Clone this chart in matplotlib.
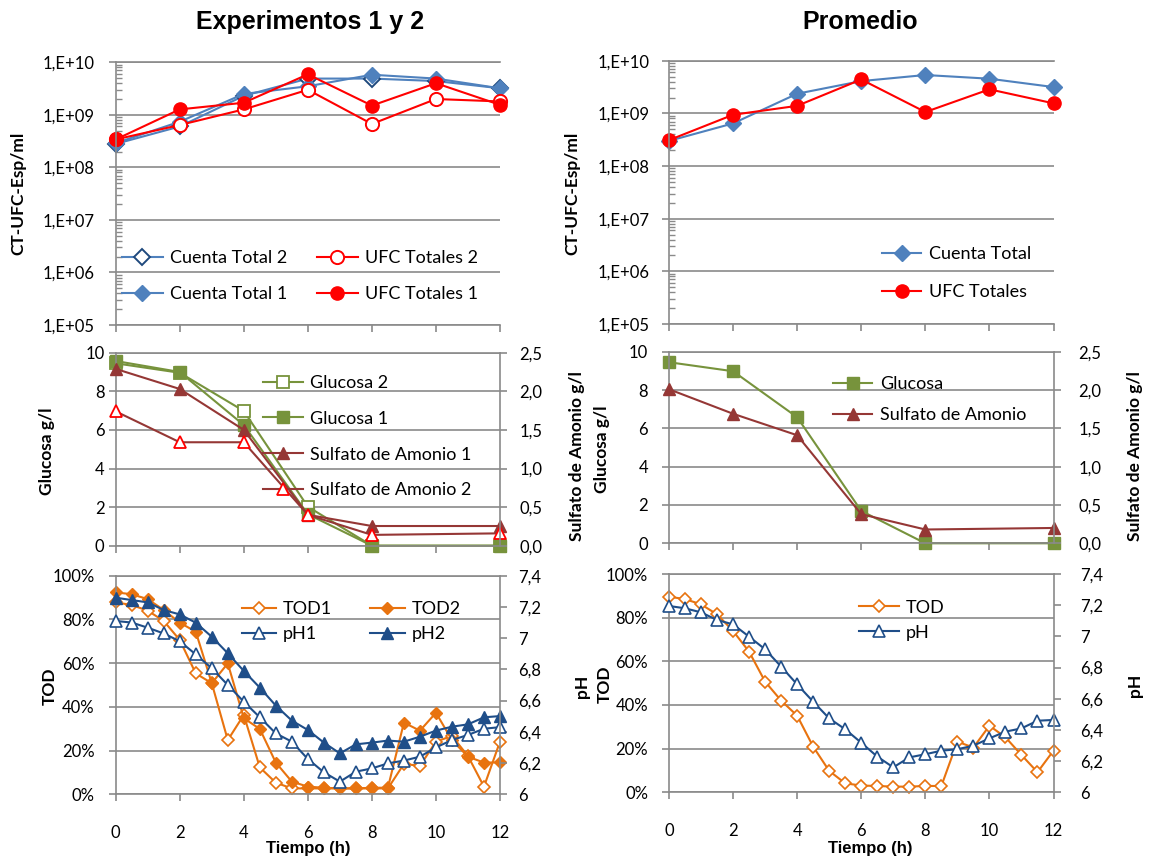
import math

import matplotlib
matplotlib.use("Agg")
import matplotlib.pyplot as plt
from matplotlib.ticker import FuncFormatter, LogLocator, NullFormatter

plt.rcParams["font.family"] = ["Lato", "DejaVu Sans"]

# Conteos celulares, cada 2 h
T_CT = [0, 2, 4, 6, 8, 10, 12]
CT1 = [2.9e8, 7.4e8, 2.5e9, 3.5e9, 5.8e9, 4.9e9, 3.2e9]
CT2 = [2.8e8, 6.0e8, 2.3e9, 4.9e9, 4.9e9, 4.4e9, 3.2e9]
UFC1 = [3.4e8, 1.27e9, 1.7e9, 5.9e9, 1.5e9, 4.0e9, 1.55e9]
UFC2 = [3.4e8, 6.4e8, 1.27e9, 3.0e9, 6.7e8, 2.0e9, 1.8e9]
CT_PROM = [3.0e8, 6.45e8, 2.36e9, 4.1e9, 5.35e9, 4.55e9, 3.16e9]
UFC_PROM = [3.1e8, 9.4e8, 1.39e9, 4.4e9, 1.06e9, 2.86e9, 1.55e9]

# Sustratos (g/l)
T_SUS = [0, 2, 4, 6, 8, 12]
GLU1 = [9.57, 9.0, 6.25, 1.63, 0.0, 0.0]
GLU2 = [9.45, 8.96, 6.98, 2.02, 0.0, 0.0]
SA1 = [2.29, 2.03, 1.50, 0.40, 0.255, 0.255]
SA2 = [1.74, 1.34, 1.34, 0.40, 0.14, 0.16]
GLU_PROM = [9.45, 8.98, 6.58, 1.69, 0.0, 0.0]
SA_PROM = [2.01, 1.69, 1.41, 0.38, 0.18, 0.20]

# TOD (%) y pH, cada 0,5 h
T_TOD = [0, 0.5, 1, 1.5, 2, 2.5, 3, 3.5, 4, 4.5, 5, 5.5, 6, 6.5, 7, 7.5, 8, 8.5,
         9, 9.5, 10, 10.5, 11, 11.5, 12]
TOD1 = [87.8, 86.6, 84.0, 79.3, 70.6, 55.3, 50.8, 24.8, 36.3, 12.3, 5.3, 2.7, 2.7,
        2.7, 2.7, 2.7, 2.7, 2.7, 13.9, 13.0, 24.1, 26.7, 17.5, 3.5, 24.1]
TOD2 = [92.4, 91.5, 89.3, 84.3, 78.5, 74.4, 50.8, 59.9, 34.8, 29.9, 14.5, 5.8, 3.5,
        3.0, 2.7, 2.7, 3.0, 3.0, 32.8, 29.1, 37.3, 24.8, 17.2, 14.5, 14.6]
PH1 = [7.11, 7.10, 7.067, 7.03, 6.98, 6.896, 6.807, 6.70, 6.593, 6.493, 6.39, 6.337,
       6.226, 6.141, 6.081, 6.145, 6.166, 6.198, 6.216, 6.241, 6.30, 6.348, 6.38, 6.42, 6.43]
PH2 = [7.259, 7.244, 7.229, 7.18, 7.152, 7.099, 7.009, 6.903, 6.79, 6.683, 6.568, 6.472,
       6.412, 6.331, 6.262, 6.32, 6.331, 6.344, 6.337, 6.369, 6.408, 6.433, 6.448, 6.493, 6.501]
TOD_PROM = [89.6, 88.5, 86.1, 81.5, 73.9, 64.4, 50.7, 42.0, 35.1, 20.9, 9.8, 4.1, 3.1,
            2.9, 2.6, 2.6, 2.9, 2.9, 23.2, 20.5, 30.5, 25.2, 17.1, 9.2, 19.1]
PH_PROM = [7.195, 7.18, 7.154, 7.105, 7.077, 6.998, 6.917, 6.806, 6.692, 6.581, 6.474,
           6.404, 6.318, 6.229, 6.16, 6.224, 6.244, 6.267, 6.276, 6.299, 6.346, 6.389,
           6.41, 6.459, 6.464]

BLUE, BLUE_D = "#4F81BD", "#1F497D"
RED = "#FF0000"
GREEN = "#77933C"
BROWN = "#953735"
ORANGE = "#E8730F"
NAVY = "#1F4E89"
GRAY = "#8A8A8A"

W, H = 1150, 863
fig = plt.figure(figsize=(W / 100, H / 100), dpi=100)


def box(x0, x1, y0, y1):
    return [x0 / W, 1 - y1 / H, (x1 - x0) / W, (y1 - y0) / H]


def style(ax, pad, xlabels=False):
    ax.set_xlim(0, 12); ax.set_xticks(range(0, 13, 2))
    ax.spines["right"].set_visible(False)
    for s in ["left", "bottom", "top"]:
        ax.spines[s].set_color(GRAY); ax.spines[s].set_linewidth(1.2)
    ax.grid(axis="y", color=GRAY, lw=1.2); ax.set_axisbelow(True)
    ax.tick_params(which="major", colors=GRAY, labelcolor="black", length=5, width=1.2, labelsize=12)
    ax.tick_params(axis="y", pad=pad)
    ax.tick_params(axis="x", labelbottom=xlabels, pad=17)
    ax.set_facecolor("none")


def twin(ax, pad):
    ax2 = ax.twinx()
    for s in ["left", "bottom", "top"]:
        ax2.spines[s].set_visible(False)
    ax2.spines["right"].set_color(GRAY); ax2.spines["right"].set_linewidth(1.2)
    ax2.tick_params(colors=GRAY, labelcolor="black", length=5, width=1.2, labelsize=12, pad=pad)
    return ax2


def line(ax, x, y, **kw):
    l, = ax.plot(x, y, lw=1.5, clip_on=False, **kw)
    return l


def legend(ax, handles, x, y, ncol=1, hl=2.3, ls=1.1, cs=1.6):
    ax.legend(handles=handles, loc="center left", bbox_to_anchor=(x / W, 1 - y / H),
              bbox_transform=fig.transFigure, frameon=False, ncol=ncol, fontsize=13,
              handlelength=hl, handletextpad=0.4, labelspacing=ls, columnspacing=cs,
              borderpad=0, borderaxespad=0)


def ylab(txt, x, y):
    fig.text(x / W, 1 - y / H, txt, rotation=90, ha="center", va="center",
             fontsize=12.5, fontweight="bold")


exp_fmt = FuncFormatter(lambda v, p: "1,E+%02d" % round(math.log10(v)))
pct_fmt = FuncFormatter(lambda v, p: f"{v:.0f}%")
ph_fmt = FuncFormatter(lambda v, p: f"{v:g}".replace(".", ","))
sa_fmt = FuncFormatter(lambda v, p: f"{v:.1f}".replace(".", ","))


def counts_axes(rect, pad):
    ax = fig.add_axes(rect)
    style(ax, pad)
    ax.set_yscale("log"); ax.set_ylim(1e5, 1e10)
    ax.set_yticks([1e5, 1e6, 1e7, 1e8, 1e9, 1e10])
    ax.yaxis.set_major_formatter(exp_fmt)
    ax.yaxis.set_minor_locator(LogLocator(subs=range(2, 10)))
    ax.yaxis.set_minor_formatter(NullFormatter())
    ax.tick_params(axis="y", which="minor", direction="in", length=4, width=1.0, colors=GRAY)
    return ax


# --- Fila 1: conteos ---
ax = counts_axes(box(115.7, 500, 62.3, 325), 10)
l_ct2 = line(ax, T_CT, CT2, color=BLUE, marker="D", ms=8, mfc="white", mec=BLUE_D, mew=1.4, label="Cuenta Total 2")
l_ct1 = line(ax, T_CT, CT1, color=BLUE, marker="D", ms=8.5, mfc=BLUE, mec=BLUE, label="Cuenta Total 1")
l_u2 = line(ax, T_CT, UFC2, color=RED, marker="o", ms=9.5, mfc="white", mec=RED, mew=1.4, label="UFC Totales 2")
l_u1 = line(ax, T_CT, UFC1, color=RED, marker="o", ms=9.5, mfc=RED, mec=RED, label="UFC Totales 1")
legend(ax, [l_ct2, l_ct1, l_u2, l_u1], 121.7, 276, ncol=2, hl=2.3, ls=1.1, cs=1.6)

ax = counts_axes(box(669, 1053.5, 60.7, 324), 9)
l_ct = line(ax, T_CT, CT_PROM, color=BLUE, marker="D", ms=8.5, mfc=BLUE, mec=BLUE, label="Cuenta Total")
l_u = line(ax, T_CT, UFC_PROM, color=RED, marker="o", ms=9.5, mfc=RED, mec=RED, label="UFC Totales")
legend(ax, [l_ct, l_u], 881.7, 273.3, hl=2.2, ls=1.2)

# --- Fila 2: glucosa y sulfato de amonio ---
ax = fig.add_axes(box(115.7, 500, 352.7, 545.7))
style(ax, 3); ax.set_ylim(0, 10); ax.set_yticks(range(0, 11, 2))
ax2 = twin(ax, 9); ax2.set_ylim(0, 2.5); ax2.set_yticks([0, 0.5, 1, 1.5, 2, 2.5])
ax2.yaxis.set_major_formatter(sa_fmt)
l_g2 = line(ax, T_SUS, GLU2, color=GREEN, marker="s", ms=8, mfc="white", mec=GREEN, mew=1.3, label="Glucosa 2")
l_g1 = line(ax, T_SUS, GLU1, color=GREEN, marker="s", ms=8, mfc=GREEN, mec=GREEN, label="Glucosa 1")
l_s1 = line(ax2, T_SUS, SA1, color=BROWN, marker="^", ms=8.5, mfc=BROWN, mec=BROWN, label="Sulfato de Amonio 1")
l_s2 = line(ax2, T_SUS, SA2, color=BROWN, marker="^", ms=9, mfc="white", mec=RED, mew=1.3, label="Sulfato de Amonio 2")
legend(ax2, [l_g2, l_g1, l_s1, l_s2], 263.3, 436.7, hl=2.2, ls=1.1)

ax = fig.add_axes(box(669, 1053.5, 351.7, 543.3))
style(ax, 10); ax.set_ylim(0, 10); ax.set_yticks(range(0, 11, 2))
ax2 = twin(ax, 13); ax2.set_ylim(0, 2.5); ax2.set_yticks([0, 0.5, 1, 1.5, 2, 2.5])
ax2.yaxis.set_major_formatter(sa_fmt)
l_g = line(ax, T_SUS, GLU_PROM, color=GREEN, marker="s", ms=8, mfc=GREEN, mec=GREEN, label="Glucosa")
l_s = line(ax2, T_SUS, SA_PROM, color=BROWN, marker="^", ms=8.5, mfc=BROWN, mec=BROWN, label="Sulfato de Amonio")
legend(ax2, [l_g, l_s], 832.7, 399.7, hl=2.2, ls=0.8)

# --- Fila 3: TOD y pH ---
ax = fig.add_axes(box(115.7, 500, 575.7, 794.3))
style(ax, 10, xlabels=True); ax.set_ylim(0, 100); ax.set_yticks(range(0, 101, 20))
ax.yaxis.set_major_formatter(pct_fmt)
ax2 = twin(ax, 8); ax2.set_ylim(6, 7.4)
ax2.set_yticks([6, 6.2, 6.4, 6.6, 6.8, 7, 7.2, 7.4]); ax2.yaxis.set_major_formatter(ph_fmt)
l_t1 = line(ax, T_TOD, TOD1, color=ORANGE, marker="D", ms=6.5, mfc="white", mec=ORANGE, mew=1.2, label="TOD1")
l_t2 = line(ax, T_TOD, TOD2, color=ORANGE, marker="D", ms=6.5, mfc=ORANGE, mec=ORANGE, label="TOD2")
l_p1 = line(ax2, T_TOD, PH1, color=NAVY, marker="^", ms=8.5, mfc="white", mec=NAVY, mew=1.2, label="pH1")
l_p2 = line(ax2, T_TOD, PH2, color=NAVY, marker="^", ms=8, mfc=NAVY, mec=NAVY, label="pH2")
legend(ax2, [l_t1, l_p1, l_t2, l_p2], 241.7, 621.7, ncol=2, hl=1.9, ls=0.5, cs=2.1)

ax = fig.add_axes(box(669, 1053.5, 574, 792.3))
style(ax, 10, xlabels=True); ax.set_ylim(0, 100); ax.set_yticks(range(0, 101, 20))
ax.yaxis.set_major_formatter(pct_fmt)
ax2 = twin(ax, 14); ax2.set_ylim(6, 7.4)
ax2.set_yticks([6, 6.2, 6.4, 6.6, 6.8, 7, 7.2, 7.4]); ax2.yaxis.set_major_formatter(ph_fmt)
l_t = line(ax, T_TOD, TOD_PROM, color=ORANGE, marker="D", ms=6.5, mfc="white", mec=ORANGE, mew=1.2, label="TOD")
l_p = line(ax2, T_TOD, PH_PROM, color=NAVY, marker="^", ms=8.5, mfc="white", mec=NAVY, mew=1.2, label="pH")
legend(ax2, [l_t, l_p], 859, 620.3, hl=2.2, ls=0.5)

# Títulos y rótulos
for txt, x in [("Experimentos 1 y 2", 310), ("Promedio", 860)]:
    fig.text(x / W, 1 - 22 / H, txt, ha="center", va="center", fontsize=18,
             fontweight="bold", family="Liberation Sans")
for x in [308, 870]:
    fig.text(x / W, 1 - 848 / H, "Tiempo (h)", ha="center", va="center", fontsize=12,
             fontweight="bold", family="Liberation Sans")
ylab("CT-UFC-Esp/ml", 18, 193); ylab("CT-UFC-Esp/ml", 572, 193)
ylab("Glucosa g/l", 47, 451); ylab("Sulfato de Amonio g/l", 577, 456)
ylab("Glucosa g/l", 602, 449); ylab("Sulfato de Amonio g/l", 1135, 456)
ylab("TOD", 50, 686); ylab("pH", 582, 686)
ylab("TOD", 605, 684); ylab("pH", 1135, 685)

fig.savefig("out.png", dpi=100, facecolor="white")
